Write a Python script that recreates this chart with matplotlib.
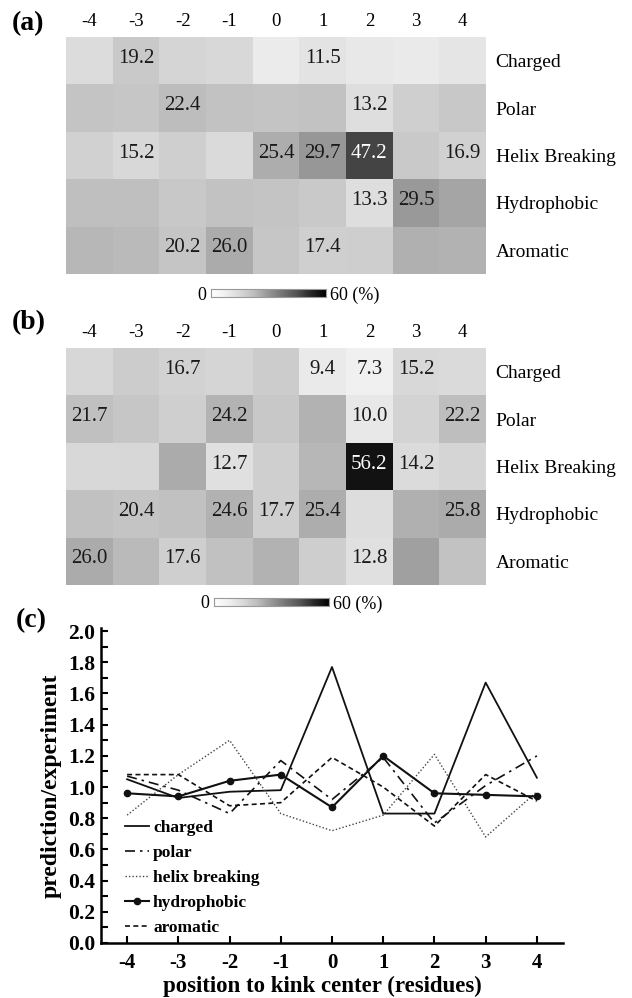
import numpy as np
import matplotlib
matplotlib.use("Agg")
import matplotlib.pyplot as plt

plt.rcParams['font.family'] = ['Liberation Serif', 'DejaVu Serif']

# ---------------- data ----------------
positions = ['-4', '-3', '-2', '-1', '0', '1', '2', '3', '4']
categories = ['Charged', 'Polar', 'Helix Breaking', 'Hydrophobic', 'Aromatic']

# panel (a) cell values (%)
a_charged     = [14.0, 19.2, 16.0, 15.0, 9.0, 11.5, 10.0, 9.5, 11.0]
a_polar       = [20.5, 20.0, 22.4, 21.0, 20.5, 21.0, 13.2, 17.5, 19.5]
a_helix       = [17.0, 15.2, 17.5, 14.5, 25.4, 29.7, 47.2, 19.0, 16.9]
a_hydrophobic = [22.0, 22.0, 19.5, 21.0, 20.5, 19.0, 13.3, 29.5, 27.0]
a_aromatic    = [23.5, 23.0, 20.2, 26.0, 20.0, 17.4, 18.0, 25.0, 24.5]
# which cells of (a) carry a printed value
a_shown = [[0, 1, 0, 0, 0, 1, 0, 0, 0],
           [0, 0, 1, 0, 0, 0, 1, 0, 0],
           [0, 1, 0, 0, 1, 1, 1, 0, 1],
           [0, 0, 0, 0, 0, 0, 1, 1, 0],
           [0, 0, 1, 1, 0, 1, 0, 0, 0]]

# panel (b) cell values (%)
b_charged     = [15.5, 18.5, 16.7, 16.0, 18.5, 9.4, 7.3, 15.2, 14.5]
b_polar       = [21.7, 20.0, 17.5, 24.2, 19.5, 24.5, 10.0, 16.5, 22.2]
b_helix       = [15.0, 15.5, 26.0, 12.7, 17.5, 23.5, 56.2, 14.2, 16.0]
b_hydrophobic = [21.5, 20.4, 21.5, 24.6, 17.7, 25.4, 13.5, 25.0, 25.8]
b_aromatic    = [26.0, 23.0, 17.6, 21.5, 24.5, 18.0, 12.8, 28.0, 21.0]
b_shown = [[0, 0, 1, 0, 0, 1, 1, 1, 0],
           [1, 0, 0, 1, 0, 0, 1, 0, 1],
           [0, 0, 0, 1, 0, 0, 1, 1, 0],
           [0, 1, 0, 1, 1, 1, 0, 0, 1],
           [1, 0, 1, 0, 0, 0, 1, 0, 0]]

# panel (c): prediction / experiment ratio
x_pos = [-4, -3, -2, -1, 0, 1, 2, 3, 4]
c_charged     = [1.05, 0.93, 0.97, 0.98, 1.77, 0.83, 0.83, 1.67, 1.06]
c_polar       = [1.07, 0.98, 0.83, 1.17, 0.92, 1.19, 0.77, 1.01, 1.20]
c_helix       = [0.82, 1.08, 1.30, 0.83, 0.72, 0.82, 1.21, 0.68, 0.97]
c_hydrophobic = [0.96, 0.94, 1.04, 1.08, 0.87, 1.20, 0.96, 0.95, 0.94]
c_aromatic    = [1.08, 1.08, 0.88, 0.90, 1.19, 1.00, 0.75, 1.08, 0.91]

# ---------------- figure ----------------
W, H = 632, 998
fig = plt.figure(figsize=(W / 100, H / 100), dpi=100)
cmap = plt.get_cmap('Greys')


def px_axes(x0, y0, x1, y1):
    return fig.add_axes([x0 / W, 1 - y1 / H, (x1 - x0) / W, (y1 - y0) / H])


def heatmap(ax, vals, shown):
    vals = np.array(vals)
    ax.imshow(vals, cmap=cmap, vmin=0, vmax=60, aspect='auto',
              interpolation='nearest')
    ax.set_xticks(range(len(positions)))
    ax.set_xticklabels(positions, fontsize=13.5)
    ax.xaxis.tick_top()
    ax.set_yticks(range(len(categories)))
    ax.set_yticklabels(categories, fontsize=14)
    ax.yaxis.tick_right()
    ax.tick_params(axis='x', length=0, pad=5)
    ax.tick_params(axis='y', length=0, pad=7)
    for s in ax.spines.values():
        s.set_visible(False)
    for i in range(vals.shape[0]):
        for j in range(vals.shape[1]):
            if shown[i][j]:
                v = vals[i, j]
                ax.text(j, i - 0.05, f"{v:.1f}", ha='center', va='center',
                        fontsize=15, color='white' if v > 40 else '#1a1a1a')


def colorbar(x0, x1, yc, lab_y):
    cax = px_axes(x0, yc - 4, x1, yc + 4)
    grad = np.linspace(0, 1, 256)[None, :]
    cax.imshow(grad, cmap=cmap, aspect='auto', vmin=0, vmax=1)
    cax.set_xticks([]); cax.set_yticks([])
    for s in cax.spines.values():
        s.set_color('#999999'); s.set_linewidth(0.8)
    fig.text((x0 - 5) / W, 1 - lab_y / H, '0', ha='right', va='center', fontsize=13)
    fig.text((x1 + 4) / W, 1 - lab_y / H, '60 (%)', ha='left', va='center', fontsize=13)


# panel (a)
axa = px_axes(66, 37, 486, 274)
heatmap(axa, [a_charged, a_polar, a_helix, a_hydrophobic, a_aromatic], a_shown)
colorbar(211, 326, 293, 295)
fig.text(12 / W, 1 - 24 / H, '(a)', fontsize=20, fontweight='bold', ha='left', va='center')

# panel (b)
axb = px_axes(66, 348, 486, 585)
heatmap(axb, [b_charged, b_polar, b_helix, b_hydrophobic, b_aromatic], b_shown)
colorbar(214, 329, 602, 604)
fig.text(12 / W, 1 - 323 / H, '(b)', fontsize=20, fontweight='bold', ha='left', va='center')

# panel (c)
axc = px_axes(101, 628, 563, 943)
lw = 1.3
axc.plot(x_pos, c_charged, color='#111111', lw=lw, ls='-', label='charged')
axc.plot(x_pos, c_polar, color='#111111', lw=1.2, ls=(0, (6, 3, 1.5, 3)), label='polar')
axc.plot(x_pos, c_helix, color='#444444', lw=1.0, ls=(0, (1, 1.5)), label='helix breaking')
axc.plot(x_pos, c_hydrophobic, color='#111111', lw=1.5, ls='-', marker='o',
         markersize=4.5, label='hydrophobic')
axc.plot(x_pos, c_aromatic, color='#111111', lw=1.2, ls=(0, (3, 2)), label='aromatic')

axc.set_xlim(-4.51, 4.51)
axc.set_ylim(0, 2.02)
axc.set_xticks(x_pos)
axc.set_xticklabels(positions)
axc.set_yticks(np.arange(0, 2.01, 0.2))
axc.set_yticklabels([f"{v:.1f}" for v in np.arange(0, 2.01, 0.2)])
axc.set_yticks(np.arange(0.1, 2.0, 0.2), minor=True)
for s in ['top', 'right']:
    axc.spines[s].set_visible(False)
for s in ['left', 'bottom']:
    axc.spines[s].set_linewidth(1.8)
axc.tick_params(axis='both', which='both', direction='in', width=1.5)
axc.tick_params(axis='both', which='major', length=5)
axc.tick_params(axis='x', labelsize=15, pad=7)
axc.tick_params(axis='y', labelsize=15.5, pad=4)
axc.tick_params(axis='y', which='minor', length=5)
for lab in axc.get_xticklabels() + axc.get_yticklabels():
    lab.set_fontweight('bold')
axc.set_xlabel('position to kink center (residues)', fontsize=16.5, fontweight='bold', labelpad=3)
axc.xaxis.set_label_coords((322 - 101) / 462, -0.105)
axc.set_ylabel('prediction/experiment', fontsize=17, fontweight='bold', labelpad=5)

leg = axc.legend(loc='lower left', bbox_to_anchor=(0.045, 0.012), frameon=False,
                 prop={'weight': 'bold', 'size': 12.5}, handlelength=1.35,
                 handletextpad=0.25, labelspacing=0.5, borderpad=0.2, borderaxespad=0)

fig.text(16 / W, 1 - 621 / H, '(c)', fontsize=20, fontweight='bold', ha='left', va='center')

fig.savefig('out.png', dpi=100)
